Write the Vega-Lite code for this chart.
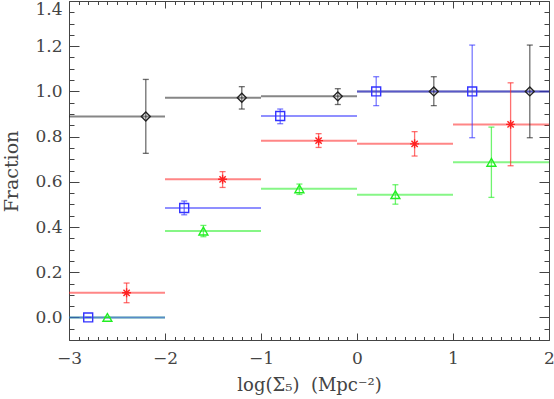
{
  "$schema": "https://vega.github.io/schema/vega-lite/v6.json",
  "width": 480,
  "height": 339,
  "autosize": {"type": "none"},
  "padding": {"left": 69, "top": 1, "right": 5, "bottom": 59},
  "background": "white",
  "config": {
    "view": {"stroke": "#444", "strokeWidth": 1},
    "axis": {
      "domain": false,
      "ticks": true,
      "tickColor": "#444",
      "tickWidth": 1,
      "tickOpacity": 1,
      "labelFont": "DejaVu Serif",
      "labelFontSize": 17,
      "labelColor": "#444",
      "titleFont": "DejaVu Serif",
      "titleFontSize": 18,
      "titleFontWeight": "normal",
      "titleColor": "#444",
      "grid": false,
      "labelOverlap": false,
      "labelFlush": false,
      "labelBound": false
    }
  },
  "data": {
    "values": [
      {"series": "A", "x": -2.2, "xlo": -3, "xhi": -2, "y": 0.889, "ylo": 0.726, "yhi": 1.053},
      {"series": "A", "x": -1.2, "xlo": -2, "xhi": -1, "y": 0.972, "ylo": 0.922, "yhi": 1.021},
      {"series": "A", "x": -0.2, "xlo": -1, "xhi": 0, "y": 0.978, "ylo": 0.942, "yhi": 1.012},
      {"series": "A", "x": 0.8, "xlo": 0, "xhi": 1, "y": 1.0, "ylo": 0.937, "yhi": 1.065},
      {"series": "A", "x": 1.8, "xlo": 1, "xhi": 2, "y": 1.0, "ylo": 0.795, "yhi": 1.205},
      {"series": "D", "x": -2.6, "xlo": -3, "xhi": -2, "y": 0.0, "ylo": 0.0, "yhi": 0.0},
      {"series": "D", "x": -1.6, "xlo": -2, "xhi": -1, "y": 0.382, "ylo": 0.357, "yhi": 0.407},
      {"series": "D", "x": -0.6, "xlo": -1, "xhi": 0, "y": 0.569, "ylo": 0.544, "yhi": 0.59},
      {"series": "D", "x": 0.4, "xlo": 0, "xhi": 1, "y": 0.543, "ylo": 0.501, "yhi": 0.587},
      {"series": "D", "x": 1.4, "xlo": 1, "xhi": 2, "y": 0.686, "ylo": 0.531, "yhi": 0.842},
      {"series": "C", "x": -2.4, "xlo": -3, "xhi": -2, "y": 0.109, "ylo": 0.065, "yhi": 0.152},
      {"series": "C", "x": -1.4, "xlo": -2, "xhi": -1, "y": 0.611, "ylo": 0.575, "yhi": 0.645},
      {"series": "C", "x": -0.4, "xlo": -1, "xhi": 0, "y": 0.782, "ylo": 0.752, "yhi": 0.813},
      {"series": "C", "x": 0.6, "xlo": 0, "xhi": 1, "y": 0.768, "ylo": 0.714, "yhi": 0.822},
      {"series": "C", "x": 1.6, "xlo": 1, "xhi": 2, "y": 0.854, "ylo": 0.671, "yhi": 1.038},
      {"series": "B", "x": -2.8, "xlo": -3, "xhi": -2, "y": 0.0, "ylo": 0.0, "yhi": 0.0},
      {"series": "B", "x": -1.8, "xlo": -2, "xhi": -1, "y": 0.484, "ylo": 0.454, "yhi": 0.515},
      {"series": "B", "x": -0.8, "xlo": -1, "xhi": 0, "y": 0.891, "ylo": 0.857, "yhi": 0.922},
      {"series": "B", "x": 0.2, "xlo": 0, "xhi": 1, "y": 1.0, "ylo": 0.937, "yhi": 1.065},
      {"series": "B", "x": 1.2, "xlo": 1, "xhi": 2, "y": 1.0, "ylo": 0.795, "yhi": 1.205}
    ]
  },
  "resolve": {"axis": {"x": "independent", "y": "independent"}},
  "layer": [
    {
      "mark": {"type": "rule", "strokeWidth": 2, "opacity": 0.55},
      "encoding": {
        "x": {
          "field": "xlo", "type": "quantitative",
          "scale": {"domain": [-3, 2], "nice": false, "zero": false},
          "axis": {
            "orient": "bottom",
            "values": [-3, -2, -1, 0, 1, 2],
            "tickSize": 7,
            "offset": -7,
            "format": "d",
            "labelPadding": 10,
            "title": "log(Σ₅)\u00a0\u00a0(Mpc⁻²)",
            "titleX": 240,
            "titleY": 57,
            "titleAlign": "center",
            "titleBaseline": "alphabetic"
          }
        },
        "x2": {"field": "xhi"},
        "y": {
          "field": "y", "type": "quantitative",
          "scale": {"domain": [-0.1, 1.4], "nice": false, "zero": false},
          "axis": {
            "orient": "left",
            "values": [0, 0.2, 0.4, 0.6, 0.8, 1, 1.2, 1.4],
            "tickSize": 10,
            "offset": -10,
            "format": ".1f",
            "labelBaseline": {"condition": {"test": "datum.value > 1.39", "value": "top"}, "value": "middle"},
            "labelPadding": 7,
            "title": "Fraction",
            "titleX": -68,
            "titleY": 170,
            "titleAngle": 270,
            "titleAlign": "center",
            "titleBaseline": "middle",
            "titleFontSize": 19
          }
        },
        "color": {
          "field": "series", "type": "nominal",
          "scale": {"domain": ["A", "B", "C", "D"], "range": ["#222222", "#3333ff", "#ff2222", "#22ee22"]},
          "legend": null
        }
      }
    },
    {
      "mark": {"type": "rule", "strokeWidth": 1.3, "opacity": 0.65},
      "encoding": {
        "x": {
          "field": "x", "type": "quantitative",
          "axis": {
            "orient": "top",
            "values": [-3, -2, -1, 0, 1, 2],
            "tickSize": 7,
            "offset": -7,
            "labels": false,
            "title": null
          }
        },
        "y": {
          "field": "ylo", "type": "quantitative",
          "axis": {
            "orient": "right",
            "values": [0, 0.2, 0.4, 0.6, 0.8, 1, 1.2, 1.4],
            "tickSize": 10,
            "offset": -10,
            "labels": false,
            "title": null
          }
        },
        "y2": {"field": "yhi"},
        "color": {"field": "series", "type": "nominal", "legend": null}
      }
    },
    {
      "mark": {"type": "tick", "orient": "horizontal", "size": 6, "thickness": 1.3, "opacity": 0.65},
      "encoding": {
        "x": {
          "field": "x", "type": "quantitative",
          "axis": {
            "orient": "bottom",
            "values": [-2.9, -2.8, -2.7, -2.6, -2.5, -2.4, -2.3, -2.2, -2.1, -1.9, -1.8, -1.7, -1.6, -1.5, -1.4, -1.3, -1.2, -1.1, -0.9, -0.8, -0.7, -0.6, -0.5, -0.4, -0.3, -0.2, -0.1, 0.1, 0.2, 0.3, 0.4, 0.5, 0.6, 0.7, 0.8, 0.9, 1.1, 1.2, 1.3, 1.4, 1.5, 1.6, 1.7, 1.8, 1.9],
            "tickSize": 3.5,
            "offset": -3.5,
            "labels": false,
            "title": null
          }
        },
        "y": {
          "field": "yhi", "type": "quantitative",
          "axis": {
            "orient": "left",
            "values": [-0.1, -0.05, 0.05, 0.1, 0.15, 0.25, 0.3, 0.35, 0.45, 0.5, 0.55, 0.65, 0.7, 0.75, 0.85, 0.9, 0.95, 1.05, 1.1, 1.15, 1.25, 1.3, 1.35],
            "tickSize": 5,
            "offset": -5,
            "labels": false,
            "title": null
          }
        },
        "color": {"field": "series", "type": "nominal", "legend": null}
      }
    },
    {
      "mark": {"type": "tick", "orient": "horizontal", "size": 6, "thickness": 1.3, "opacity": 0.65},
      "encoding": {
        "x": {
          "field": "x", "type": "quantitative",
          "axis": {
            "orient": "top",
            "values": [-2.9, -2.8, -2.7, -2.6, -2.5, -2.4, -2.3, -2.2, -2.1, -1.9, -1.8, -1.7, -1.6, -1.5, -1.4, -1.3, -1.2, -1.1, -0.9, -0.8, -0.7, -0.6, -0.5, -0.4, -0.3, -0.2, -0.1, 0.1, 0.2, 0.3, 0.4, 0.5, 0.6, 0.7, 0.8, 0.9, 1.1, 1.2, 1.3, 1.4, 1.5, 1.6, 1.7, 1.8, 1.9],
            "tickSize": 3.5,
            "offset": -3.5,
            "labels": false,
            "title": null
          }
        },
        "y": {
          "field": "ylo", "type": "quantitative",
          "axis": {
            "orient": "right",
            "values": [-0.1, -0.05, 0.05, 0.1, 0.15, 0.25, 0.3, 0.35, 0.45, 0.5, 0.55, 0.65, 0.7, 0.75, 0.85, 0.9, 0.95, 1.05, 1.1, 1.15, 1.25, 1.3, 1.35],
            "tickSize": 5,
            "offset": -5,
            "labels": false,
            "title": null
          }
        },
        "color": {"field": "series", "type": "nominal", "legend": null}
      }
    },
    {
      "mark": {"type": "point", "filled": false, "size": 80, "strokeWidth": 1.4, "opacity": 1},
      "encoding": {
        "x": {"field": "x", "type": "quantitative", "axis": null},
        "y": {"field": "y", "type": "quantitative", "axis": null},
        "color": {"field": "series", "type": "nominal", "legend": null},
        "shape": {
          "field": "series", "type": "nominal",
          "scale": {"domain": ["A", "B", "C", "D"], "range": ["diamond", "square", "M-1,0L1,0M0,-1L0,1M-0.7,-0.7L0.7,0.7M-0.7,0.7L0.7,-0.7", "triangle-up"]},
          "legend": null
        }
      }
    }
  ]
}
